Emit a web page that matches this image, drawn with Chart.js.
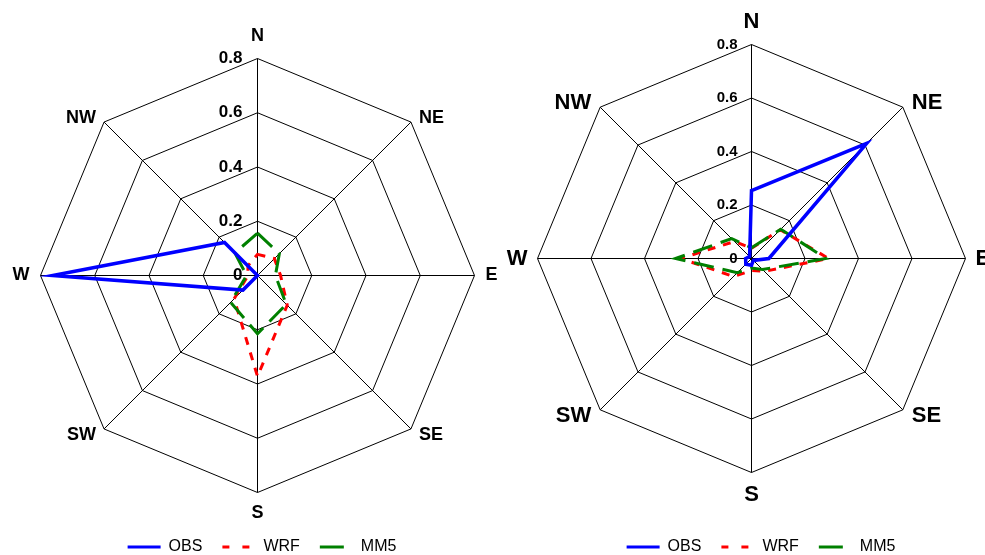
<!DOCTYPE html>
<html>
<head>
<meta charset="utf-8">
<title>Wind direction frequency</title>
<script src="https://cdn.jsdelivr.net/npm/chart.js@4.4.1/dist/chart.umd.min.js"></script>
<style>
  html, body { margin: 0; padding: 0; background: #fff; overflow: hidden; }
  #wrap { position: relative; width: 985px; height: 555px; overflow: hidden; }
  .box { position: absolute; top: 0; }
  #boxLeft { left: 0; }
  #boxRight { left: 493px; }
</style>
</head>
<body>
<div id="wrap">
  <div class="box" id="boxLeft"><canvas id="leftChart" width="510" height="565"></canvas></div>
  <div class="box" id="boxRight"><canvas id="rightChart" width="492" height="565"></canvas></div>
</div>
<script>
// directions and radial ticks
const directions = ['N', 'NE', 'E', 'SE', 'S', 'SW', 'W', 'NW'];
const tickValues = [0, 0.2, 0.4, 0.6, 0.8];
const seriesNames = ['OBS', 'WRF', 'MM5'];

// left rose
const obsLeft = [0, 0, 0, 0, 0, 0.076, 0.755, 0.172];
const wrfLeft = [0.078, 0.088, 0.085, 0.155, 0.372, 0.122, 0.035, 0.05];
const mm5Left = [0.156, 0.114, 0.066, 0.15, 0.215, 0.14, 0.04, 0.118];

// right rose
const obsRight = [0.254, 0.609, 0.065, 0.01, 0.025, 0.03, 0.022, 0.01];
const wrfRight = [0.038, 0.152, 0.288, 0.068, 0.045, 0.095, 0.265, 0.09];
const mm5Right = [0.04, 0.155, 0.278, 0.058, 0.036, 0.075, 0.284, 0.105];

const FONT = '"Liberation Sans", Arial, sans-serif';
Chart.defaults.font.family = FONT;
Chart.defaults.color = '#000';

const lineColors = ['#0000ff', '#ff0000', '#008000'];
const chartDashes = [[], [8, 8], [20, 9]];
const legendDashes = [[], [7, 13], [24, 20]];

// tick values and direction names, placed off the scale geometry
const roseLabels = {
  id: 'roseLabels',
  beforeDatasetsDraw(chart, args, opts) {
    const r = chart.scales.r;
    const ctx = chart.ctx;
    ctx.save();
    ctx.fillStyle = '#000';
    ctx.font = 'bold ' + opts.tickSize + 'px ' + FONT;
    ctx.textAlign = 'right';
    ctx.textBaseline = 'middle';
    tickValues.forEach(v => {
      const y = r.yCenter - r.getDistanceFromCenterForValue(v);
      ctx.fillText(String(v), r.xCenter - opts.tickGap, y);
    });

    ctx.font = 'bold ' + opts.labelSize + 'px ' + FONT;
    directions.forEach((name, i) => {
      const p = r.getPointPosition(i, r.drawingArea);
      const sx = Math.sign(Math.round(p.x - r.xCenter));
      const sy = Math.sign(Math.round(p.y - r.yCenter));
      let x = p.x, y = p.y, align = 'center';
      if (sx === 0) {
        y += sy < 0 ? -opts.nOff : opts.sOff;
      } else if (sy === 0) {
        x += sx * opts.ewOff;
        align = sx > 0 ? 'left' : 'right';
      } else {
        x += sx * opts.dOff;
        y += sy < 0 ? -4 : 6;
        align = sx > 0 ? 'left' : 'right';
      }
      ctx.textAlign = align;
      ctx.fillText(name, x, y);
    });
    ctx.restore();
  }
};

function makeRose(canvasId, values, geo, labelOpts, padLeft) {
  const ctx = document.getElementById(canvasId).getContext('2d');
  return new Chart(ctx, {
    type: 'radar',
    data: {
      labels: directions,
      datasets: values.map((vals, i) => ({
        label: seriesNames[i],
        data: vals,
        borderColor: lineColors[i],
        backgroundColor: 'rgba(0,0,0,0)',
        borderWidth: i === 0 ? 3.5 : 3,
        borderDash: chartDashes[i],
        fill: false,
        pointRadius: 0,
        pointHoverRadius: 0,
        order: [0, 2, 1][i],
        clip: false
      }))
    },
    options: {
      responsive: false,
      animation: false,
      events: [],
      layout: { padding: { left: padLeft } },
      scales: {
        r: {
          min: 0,
          max: 0.8,
          ticks: { display: false, stepSize: 0.2 },
          grid: { color: '#000', lineWidth: 1 },
          angleLines: { color: '#000', lineWidth: 1 },
          pointLabels: { display: false },
          afterFit: (scale) => {
            scale.xCenter = geo.x;
            scale.yCenter = geo.y;
            scale.drawingArea = geo.radius;
          }
        }
      },
      plugins: {
        tooltip: { enabled: false },
        roseLabels: labelOpts,
        legend: {
          position: 'bottom',
          labels: {
            usePointStyle: true,
            pointStyle: 'line',
            pointStyleWidth: 33,
            padding: 20,
            color: '#000',
            font: { size: 16 },
            generateLabels(chart) {
              const items = Chart.defaults.plugins.legend.labels.generateLabels(chart);
              items.sort((a, b) => a.datasetIndex - b.datasetIndex);
              items.forEach(it => {
                it.lineDash = legendDashes[it.datasetIndex];
                it.lineWidth = 3;
                it.lineCap = 'butt';
              });
              return items;
            }
          }
        }
      }
    },
    plugins: [roseLabels]
  });
}

makeRose('leftChart', [obsLeft, wrfLeft, mm5Left],
  { x: 257.5, y: 275.5, radius: 217 },
  { tickSize: 17, tickGap: 15, labelSize: 18, nOff: 22, sOff: 21, ewOff: 11, dOff: 8 },
  14);

makeRose('rightChart', [obsRight, wrfRight, mm5Right],
  { x: 258.5, y: 258.5, radius: 214 },
  { tickSize: 15, tickGap: 14, labelSize: 22, nOff: 23, sOff: 22, ewOff: 10, dOff: 9 },
  44);
</script>
</body>
</html>
